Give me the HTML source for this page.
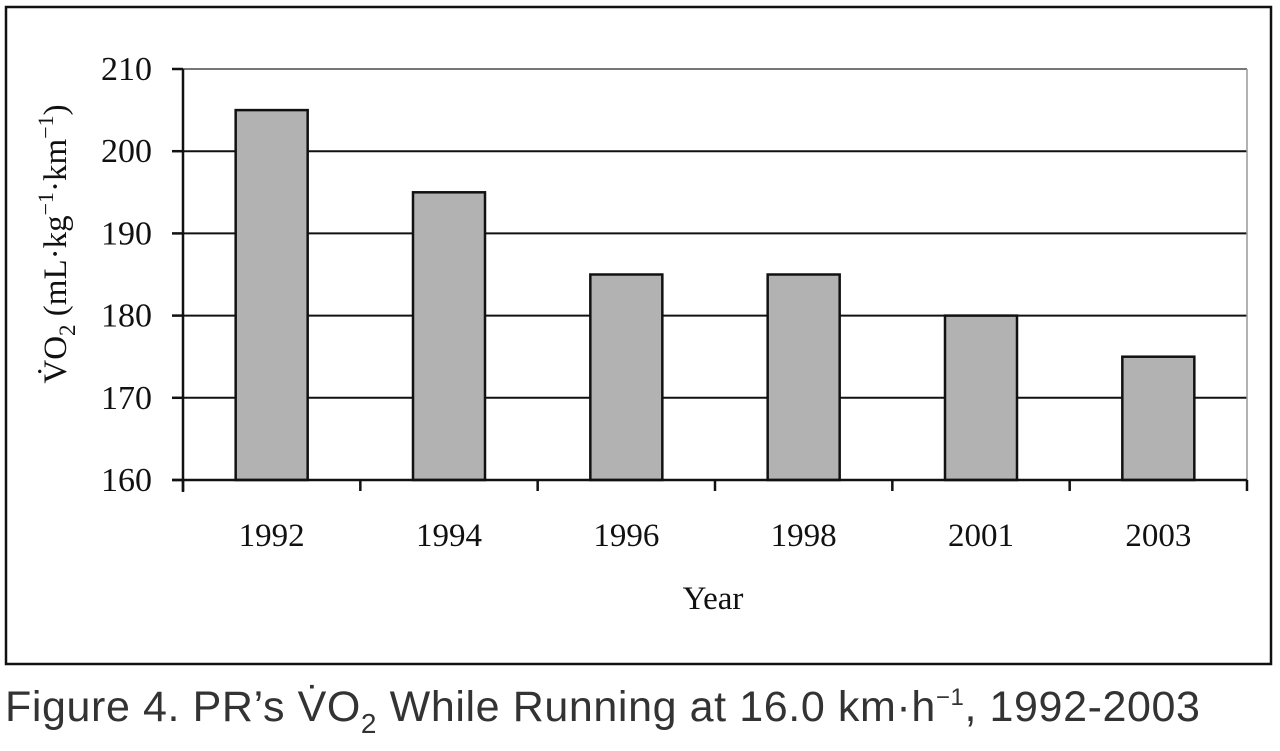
<!DOCTYPE html>
<html><head><meta charset="utf-8"><style>
html,body{margin:0;padding:0;background:#fff;width:1280px;height:751px;overflow:hidden}
svg text{font-family:"Liberation Serif",serif;fill:#111}
</style></head><body>
<svg width="1280" height="751">
<rect x="6" y="7" width="1265" height="657" fill="none" stroke="#111" stroke-width="2.5"/>
<g id="plot"></g>
<text x="0" y="0" font-size="33" transform="translate(66,244) rotate(-90)" text-anchor="middle"><tspan>V̇O</tspan><tspan font-size="23" dy="9">2</tspan><tspan dy="-9"> (mL·kg</tspan><tspan font-size="22" dy="-13">−1</tspan><tspan dy="13">·km</tspan><tspan font-size="22" dy="-13">−1</tspan><tspan dy="13">)</tspan></text>
<text x="713" y="609" font-size="33" text-anchor="middle">Year</text>
<text x="5" y="721" font-size="43" letter-spacing="0.6" style="font-family:'Liberation Sans',sans-serif;fill:#333">Figure 4. PR’s V̇O<tspan font-size="28" dy="12">2</tspan><tspan dy="-12"> While Running at 16.0 km·h</tspan><tspan font-size="24" dy="-16">−1</tspan><tspan dy="16">, 1992-2003</tspan></text>
</svg>
<script>
const categories=["1992","1994","1996","1998","2001","2003"];
const values=[205,195,185,185,180,175];
const yTicks=[160,170,180,190,200,210];
const NS="http://www.w3.org/2000/svg";
const g=document.getElementById('plot');
const L=183,R=1247,T=69,B=480,yMin=160,yMax=210;
const y=v=>B-(v-yMin)/(yMax-yMin)*(B-T);
const bw=(R-L)/categories.length;
const x=i=>L+bw*(i+0.5);
function mk(tag,a){const e=document.createElementNS(NS,tag);for(const k in a)e.setAttribute(k,a[k]);g.appendChild(e);return e;}
yTicks.forEach(t=>{
  if(t>yMin){const l=mk('line',{x1:L,x2:R,y1:y(t),y2:y(t),stroke:t===yMax?'#777':'#111','stroke-width':2});
  
  }
  const tk=mk('line',{x1:L-11,x2:L,y1:y(t),y2:y(t),stroke:'#111','stroke-width':2.5});
  
  
  const tx=mk('text',{x:L-31,y:y(t)+11,'font-size':34,'text-anchor':'end'});tx.textContent=t;
  
  
});
const rl=mk('line',{x1:R,x2:R,y1:T,y2:B,stroke:'#999','stroke-width':1.5});


categories.forEach((c,i)=>{
  const r=mk('rect',{x:x(i)-36,y:y(values[i]),width:72,height:B-y(values[i]),fill:'#b2b2b2',stroke:'#111','stroke-width':2.5});
  
  
  const tx=mk('text',{x:x(i),y:546,'font-size':33,'text-anchor':'middle'});tx.textContent=c;
  
  
});
for(let i=0;i<=categories.length;i++){
  const tk=mk('line',{x1:L+bw*i,x2:L+bw*i,y1:B,y2:B+11,stroke:'#111','stroke-width':2.5});
  
  
}
const xa=mk('line',{x1:L-11,x2:R,y1:B,y2:B,stroke:'#111','stroke-width':2.5});


const ya=mk('line',{x1:L,x2:L,y1:T,y2:B+12,stroke:'#111','stroke-width':2.5});


</script>
</body></html>
